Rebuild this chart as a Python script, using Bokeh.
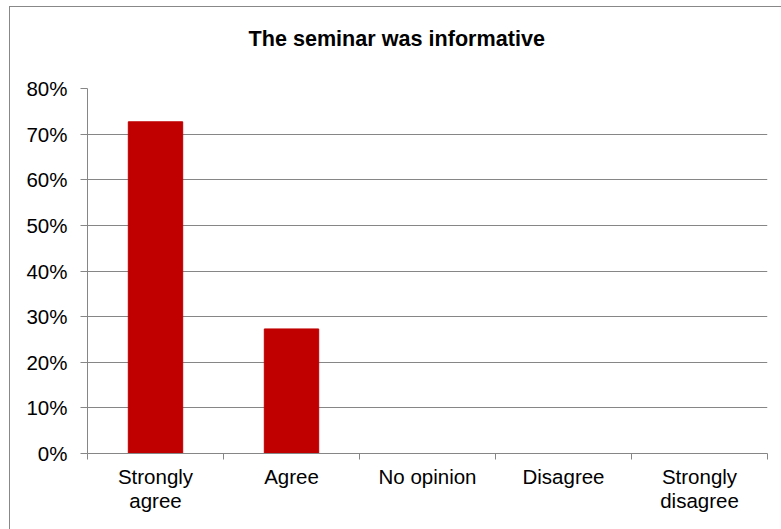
from bokeh.plotting import figure
from bokeh.models import FixedTicker, Range1d, ColumnDataSource, Title
from bokeh.embed import file_html
from bokeh.resources import INLINE

categories = ["Strongly agree", "Agree", "No opinion", "Disagree", "Strongly disagree"]
tick_labels = ["Strongly\nagree", "Agree", "No opinion", "Disagree", "Strongly\ndisagree"]
values = [0.727, 0.273, 0.0, 0.0, 0.0]
y_ticks = [0.0, 0.1, 0.2, 0.3, 0.4, 0.5, 0.6, 0.7, 0.8]
title_text = "The seminar was informative"

FONT = "Liberation Sans"
GRID = "#868686"

xs = [i + 0.5 for i in range(len(categories))]
src = ColumnDataSource(dict(x=xs, top=values, cat=categories))

p = figure(frame_width=680, frame_height=365, output_backend="svg", toolbar_location=None,
           x_range=Range1d(0, 5), y_range=Range1d(0, 0.8),
           min_border_left=77, min_border_right=14, min_border_top=81, min_border_bottom=76,
           margin=(6, 0, 0, 9),
           styles={"border": "1px solid #888888"})
p.outline_line_color = None
p.background_fill_color = "white"
p.border_fill_color = "white"

p.vbar(x="x", top="top", width=0.4, bottom=0, source=src, fill_color="#C00000", line_color="#C00000")

# blank spacer between the frame and the title
spacer = Title(text=" ", text_font_size="1px", standoff=35)
p.add_layout(spacer, "above")

p.title = Title(text=title_text, align="left", vertical_align="bottom", text_font=FONT,
                text_font_size="21.6px", text_font_style="bold", text_color="black",
                offset=161, standoff=0)

# y axis
p.yaxis.ticker = FixedTicker(ticks=y_ticks)
p.yaxis.major_label_overrides = {t: f"{int(round(t*100))}%" for t in y_ticks}
p.yaxis.major_label_text_font = FONT
p.yaxis.major_label_text_font_size = "20.5px"
p.yaxis.major_label_text_color = "black"
p.yaxis.axis_line_color = GRID
p.yaxis.major_tick_line_color = GRID
p.yaxis.major_tick_out = 7
p.yaxis.major_tick_in = 0
p.yaxis.minor_tick_line_color = None
p.yaxis.major_label_standoff = 13

# x axis
p.xaxis.ticker = FixedTicker(ticks=xs, minor_ticks=list(range(len(categories) + 1)))
p.xaxis.major_label_overrides = {x: lab for x, lab in zip(xs, tick_labels)}
p.xaxis.major_label_text_font = FONT
p.xaxis.major_label_text_font_size = "20.5px"
p.xaxis.major_label_text_color = "black"
p.xaxis.major_label_text_line_height = 1.05
p.xaxis.axis_line_color = GRID
p.xaxis.major_tick_line_color = None
p.xaxis.major_tick_out = 0
p.xaxis.minor_tick_line_color = GRID
p.xaxis.minor_tick_out = 6
p.xaxis.minor_tick_in = 0
p.xaxis.major_label_standoff = 5

p.xgrid.grid_line_color = None
p.ygrid.grid_line_color = GRID
p.ygrid.grid_line_width = 1

open("out.html", "w").write(file_html(p, INLINE))
